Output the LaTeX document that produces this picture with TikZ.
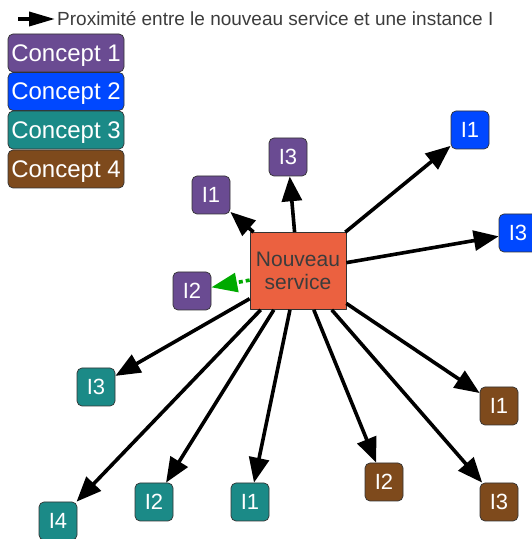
\documentclass[tikz,border=0pt]{standalone}
\usepackage{fontspec}
\setmainfont{Liberation Sans}
\usetikzlibrary{arrows.meta}
\definecolor{cpurple}{HTML}{6A4B92}
\definecolor{cblue}{HTML}{0048FF}
\definecolor{cteal}{HTML}{1B8A87}
\definecolor{cbrown}{HTML}{7E4A1C}
\definecolor{corange}{HTML}{EB6140}
\definecolor{cgreen}{HTML}{00AA00}
\definecolor{ctext}{HTML}{3C3C3C}
\tikzset{
  inst/.style={draw=black!80,line width=0.7bp,rounded corners=5bp,minimum width=38bp,minimum height=38bp,inner sep=0pt,text=white,font=\fontsize{22bp}{26bp}\selectfont},
  concept/.style={draw=black!80,line width=0.7bp,rounded corners=5bp,minimum width=116bp,minimum height=38bp,inner sep=0pt,text depth=0bp,text=white,font=\fontsize{24bp}{28bp}\selectfont},
  prox/.style={black,line width=3.6bp,-{Triangle[length=25pt,width=20pt]}},
}
\begin{document}
\begin{tikzpicture}[line join=bevel,]
\useasboundingbox (0bp,0bp) rectangle (532bp,539bp);
%%
\coordinate (leg_a) at (18bp,520bp);
  \coordinate (leg_b) at (55bp,520bp);
  \draw [black,line width=3.6bp,-{Triangle[length=26pt,width=14pt]}] (leg_a) -- (leg_b);
  \node (leg_txt) at (57bp,513bp) [anchor=base west,inner sep=0pt,text=ctext,font=\fontsize{19bp}{22bp}\selectfont] {Proximité entre le nouveau service et une instance I};
%
\node (concept_1) at (66bp,486bp) [concept,fill=cpurple] {Concept 1};
  \node (concept_2) at (66bp,447.5bp) [concept,fill=cblue] {Concept 2};
  \node (concept_3) at (66bp,409bp) [concept,fill=cteal] {Concept 3};
  \node (concept_4) at (66bp,370bp) [concept,fill=cbrown] {Concept 4};
%
\node (service) at (298bp,268bp) [draw=black!80,line width=0.7bp,fill=corange,minimum width=96bp,minimum height=77bp,inner sep=0pt,align=center,text=ctext,font=\fontsize{21bp}{23bp}\selectfont] {Nouveau\\service};
%
\node (c1_i3) at (288bp,382bp) [inst,fill=cpurple] {I3};
  \node (c1_i1) at (211bp,344bp) [inst,fill=cpurple] {I1};
  \node (c1_i2) at (192bp,248bp) [inst,fill=cpurple] {I2};
  \node (c2_i1) at (470bp,409bp) [inst,fill=cblue] {I1};
  \node (c2_i3) at (518bp,306bp) [inst,fill=cblue] {I3};
  \node (c3_i3) at (96bp,152bp) [inst,fill=cteal] {I3};
  \node (c3_i4) at (58bp,18bp) [inst,fill=cteal] {I4};
  \node (c3_i2) at (154bp,37bp) [inst,fill=cteal] {I2};
  \node (c3_i1) at (250bp,37bp) [inst,fill=cteal] {I1};
  \node (c4_i1) at (499bp,133bp) [inst,fill=cbrown] {I1};
  \node (c4_i2) at (384bp,57bp) [inst,fill=cbrown] {I2};
  \node (c4_i3) at (499bp,37bp) [inst,fill=cbrown] {I3};
%
\draw [prox] (service) -- (c1_i3);
  \draw [prox] (service) -- (c1_i1);
  \draw [cgreen,line width=3.6bp,dash pattern=on 4bp off 3bp,-{Triangle[length=26pt,width=19pt]}] (service) -- (c1_i2);
  \draw [prox] (service) -- (c2_i1);
  \draw [prox] (service) -- (c2_i3);
  \draw [prox] (service) -- (c3_i3);
  \draw [prox] (service) -- (c3_i4);
  \draw [prox] (service) -- (c3_i2);
  \draw [prox] (service) -- (c3_i1);
  \draw [prox] (service) -- (c4_i1);
  \draw [prox] (service) -- (c4_i2);
  \draw [prox] (service) -- (c4_i3);
%
\end{tikzpicture}
\end{document}
